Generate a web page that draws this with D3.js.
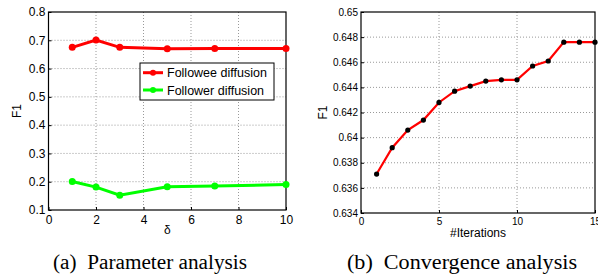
<!DOCTYPE html>
<html>
<head>
<meta charset="utf-8">
<script src="https://cdn.jsdelivr.net/npm/d3@7"></script>
<style>
  body { margin: 0; background: #fff; }
  svg { display: block; }
  .tick text { font-family: "Liberation Sans", Arial, sans-serif; fill: #000; }
  .grid line { stroke: #999; stroke-dasharray: 1,2; }
</style>
</head>
<body>
<svg id="svg"></svg>
<script>
// left panel data
let deltas = [1, 2, 3, 5, 7, 10]
let followee = [0.675, 0.701, 0.675, 0.670, 0.671, 0.671]
let follower = [0.201, 0.181, 0.152, 0.182, 0.185, 0.190]
let leftYTicks = [0.1, 0.2, 0.3, 0.4, 0.5, 0.6, 0.7, 0.8]
let leftXTicks = [0, 2, 4, 6, 8, 10]

// right panel data
let iters = [1, 2, 3, 4, 5, 6, 7, 8, 9, 10, 11, 12, 13, 14, 15]
let conv = [0.6371, 0.6392, 0.6406, 0.6414, 0.6428, 0.6437, 0.6441, 0.6445, 0.6446, 0.6446, 0.6457, 0.6461, 0.6476, 0.6476, 0.6476]
let rightYTicks = [0.634, 0.636, 0.638, 0.64, 0.642, 0.644, 0.646, 0.648, 0.65]
let rightXTicks = [0, 5, 10, 15]

let svg = d3.select('#svg').attr('width', 598).attr('height', 276)
let sans = '"Liberation Sans", Arial, sans-serif'
let serif = '"Liberation Serif", "Times New Roman", serif'

function panel(o) {
    let x = d3.scaleLinear().domain(o.xDomain).range([o.left, o.right])
    let y = d3.scaleLinear().domain(o.yDomain).range([o.bottom, o.top])
    let g = svg.append('g')

    //grid
    let grid = g.append('g').attr('class', 'grid')
    grid.selectAll('.gx').data(o.xTicks.slice(1, -1)).join('line')
        .attr('x1', d => x(d)).attr('x2', d => x(d))
        .attr('y1', o.top).attr('y2', o.bottom)
    grid.selectAll('.gy').data(o.yTicks.slice(1, -1)).join('line')
        .attr('class', 'gy')
        .attr('y1', d => y(d)).attr('y2', d => y(d))
        .attr('x1', o.left).attr('x2', o.right)

    //axes
    let xAxis = d3.axisBottom(x).tickValues(o.xTicks).tickSizeInner(-3).tickSizeOuter(0).tickPadding(5)
    let yAxis = d3.axisLeft(y).tickValues(o.yTicks).tickSizeInner(-3).tickSizeOuter(0).tickPadding(3).tickFormat(o.yFmt)
    let xg = g.append('g').attr('transform', `translate(0,${o.bottom})`).call(xAxis)
    let yg = g.append('g').attr('transform', `translate(${o.left},0)`).call(yAxis)
    xg.selectAll('text').style('font-size', o.fs + 'px')
    yg.selectAll('text').style('font-size', o.fs + 'px')
    g.selectAll('.domain').remove()

    //frame
    g.append('rect')
        .attr('x', o.left).attr('y', o.top)
        .attr('width', o.right - o.left).attr('height', o.bottom - o.top)
        .attr('fill', 'none').attr('stroke', '#000').attr('stroke-width', 1.2)

    //labels
    g.append('text')
        .attr('x', (o.left + o.right) / 2).attr('y', o.bottom + 24)
        .attr('text-anchor', 'middle')
        .style('font-family', sans).style('font-size', '12px')
        .text(o.xLabel)
    g.append('text')
        .attr('transform', `translate(${o.f1X},${(o.top + o.bottom) / 2}) rotate(-90)`)
        .attr('text-anchor', 'middle')
        .style('font-family', sans).style('font-size', '12px')
        .text('F1')
    g.append('text')
        .attr('x', o.capX).attr('y', 269)
        .attr('textLength', o.capW).attr('lengthAdjust', 'spacingAndGlyphs')
        .style('font-family', serif).style('font-size', '20px')
        .text(o.caption)
    return { x, y, g }
}

let L = panel({
    left: 48.5, right: 286, top: 12, bottom: 210,
    xDomain: [0, 10], yDomain: [0.1, 0.8],
    xTicks: leftXTicks, yTicks: leftYTicks, yFmt: d3.format('.1f'), fs: 12,
    xLabel: 'δ', caption: '(a)\u00a0\u00a0Parameter analysis', capX: 53, capW: 194, f1X: 21
})

let line = d3.line().x((d, i) => L.x(deltas[i])).y(d => L.y(d))
let series = [
    { name: 'Followee diffusion', vals: followee, color: '#ff0000' },
    { name: 'Follower diffusion', vals: follower, color: '#00ff00' }
]
series.forEach(s => {
    L.g.append('path').attr('d', line(s.vals))
        .attr('fill', 'none').attr('stroke', s.color).attr('stroke-width', 3)
    L.g.append('g').selectAll('circle').data(s.vals).join('circle')
        .attr('cx', (d, i) => L.x(deltas[i])).attr('cy', d => L.y(d))
        .attr('r', 3.5).attr('fill', s.color)
})

//legend
let lg = L.g.append('g').attr('transform', 'translate(140,63)')
lg.append('rect').attr('width', 134).attr('height', 37)
    .attr('fill', '#fff').attr('stroke', '#000').attr('stroke-width', 1)
series.forEach((s, i) => {
    let yy = 9.7 + i * 17.3
    lg.append('line').attr('x1', 3).attr('x2', 23).attr('y1', yy).attr('y2', yy)
        .attr('stroke', s.color).attr('stroke-width', 3)
    lg.append('circle').attr('cx', 13).attr('cy', yy).attr('r', 3).attr('fill', s.color)
    lg.append('text').attr('x', 27).attr('y', yy + 4.5)
        .style('font-family', sans).style('font-size', '12.5px')
        .text(s.name)
})

let R = panel({
    left: 361, right: 595, top: 12, bottom: 213,
    xDomain: [0, 15], yDomain: [0.634, 0.65],
    xTicks: rightXTicks, yTicks: rightYTicks, yFmt: d => d3.format('.3f')(d).replace(/0+$/, ''), fs: 10,
    xLabel: '#Iterations', caption: '(b)\u00a0\u00a0Convergence analysis', capX: 347, capW: 230, f1X: 327
})

let line2 = d3.line().x((d, i) => R.x(iters[i])).y(d => R.y(d))
R.g.append('path').attr('d', line2(conv))
    .attr('fill', 'none').attr('stroke', '#ff0000').attr('stroke-width', 2.2)
R.g.append('g').selectAll('circle').data(conv).join('circle')
    .attr('cx', (d, i) => R.x(iters[i])).attr('cy', d => R.y(d))
    .attr('r', 2.6).attr('fill', '#000')
</script>
</body>
</html>
